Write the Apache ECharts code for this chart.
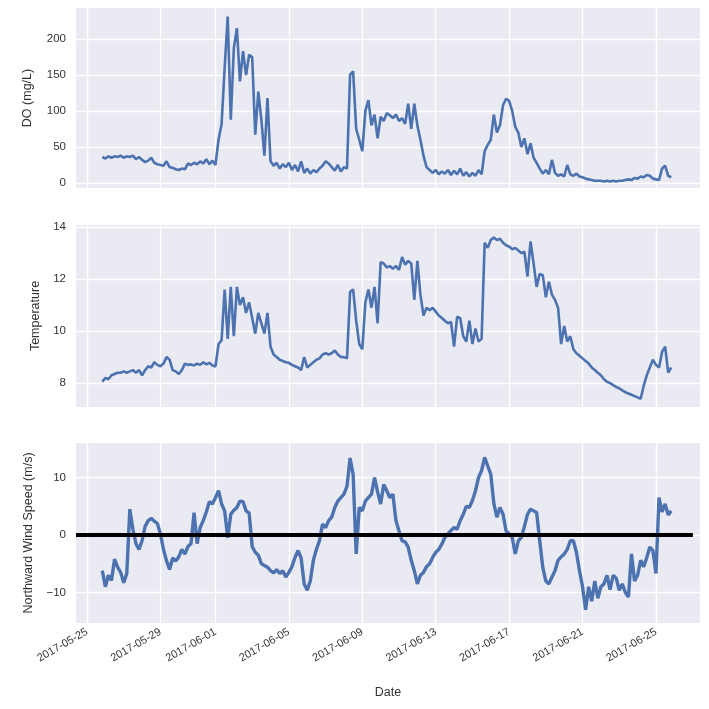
<!DOCTYPE html>
<html>
<head>
<meta charset="utf-8">
<script src="https://cdn.jsdelivr.net/npm/echarts@6/dist/echarts.min.js"></script>
<style>
html,body{margin:0;padding:0;background:#fff;}
#chart{width:709px;height:709px;}
</style>
</head>
<body>
<div id="chart"></div>
<script>
// Sampling grid: one reading every 4 hours, starting 2017-05-25 20:00
const sampleStart = '2017-05-25 20:00';
const sampleStepHours = 4;

const tickDates = ['2017-05-25','2017-05-29','2017-06-01','2017-06-05','2017-06-09','2017-06-13','2017-06-17','2017-06-21','2017-06-25'];
const xRange = ['2017-05-24 09:36', '2017-06-27 09:36'];
const zeroLineEnd = '2017-06-27 00:20';

const doTicks = [0, 50, 100, 150, 200];
const tempTicks = [8, 10, 12, 14];
const windTicks = [-10, 0, 10];

const doValues = [
36,34,37,35,37,36, 38,35,37,36,38,33, 36,32,29,31,35,28, 26,25,24,30,22,21,
19,18,20,19,27,25, 28,26,30,27,33,26, 31,25,60,82,160,231, 88,187,215,141,183,150,
178,175,67,127,88,38, 118,30,24,28,20,26, 22,28,18,25,16,30, 14,20,13,18,15,20,
24,30,27,22,17,25, 16,22,20,150,155,75, 60,44,100,115,80,95, 62,92,86,97,94,90,
95,86,90,82,110,75, 110,80,60,38,22,18, 14,18,12,16,13,18, 11,17,12,20,10,15,
9,14,10,18,12,44, 53,60,95,70,80,108, 117,114,100,78,70,50, 62,40,55,35,28,20,
13,18,12,32,14,10, 12,9,25,12,10,13, 9,8,6,5,4,3, 3,3,2,3,2,3,
2,3,3,4,5,4, 7,6,9,8,11,10, 6,5,4,20,24,10, 8
];

const tempValues = [
8.05,8.2,8.15,8.3,8.35,8.4, 8.4,8.45,8.4,8.45,8.5,8.4, 8.5,8.3,8.5,8.65,8.6,8.8,
8.7,8.65,8.75,9.0,8.9,8.5, 8.45,8.35,8.5,8.75,8.7,8.72, 8.68,8.75,8.7,8.8,8.72,8.78,
8.68,8.64,9.5,9.65,11.6,9.7, 11.7,9.8,11.7,11.0,11.3,10.7, 11.1,10.5,9.9,10.7,10.3,9.9,
10.7,9.4,9.1,9.0,8.9,8.85, 8.8,8.78,8.7,8.65,8.6,8.5, 9.0,8.6,8.7,8.8,8.9,8.95,
9.1,9.15,9.1,9.15,9.25,9.1, 9.0,9.0,8.95,11.5,11.6,10.4, 9.5,9.3,11.1,11.6,10.9,11.7,
10.3,12.65,12.6,12.45,12.5,12.4, 12.5,12.35,12.85,12.55,12.7,12.6, 11.2,12.7,11.4,10.6,10.9,10.8,
10.9,10.75,10.6,10.5,10.4,10.3, 10.35,9.4,10.55,10.5,9.8,9.6, 10.4,9.5,10.1,9.6,9.7,13.4,
13.2,13.5,13.6,13.5,13.55,13.4, 13.3,13.25,13.15,13.2,13.1,13.0, 13.05,12.1,13.45,12.6,11.7,12.2,
12.15,11.3,11.9,11.4,11.2,10.9, 9.5,10.2,9.6,9.8,9.3,9.15, 9.05,8.95,8.85,8.75,8.6,8.5,
8.4,8.3,8.15,8.05,8.0,7.92, 7.85,7.8,7.72,7.65,7.6,7.55, 7.5,7.45,7.4,7.9,8.3,8.6,
8.9,8.7,8.6,9.2,9.4,8.4, 8.6
];

const windValues = [
-6.2,-9.0,-7.0,-7.9,-4.2,-5.6, -6.5,-8.3,-6.7,4.5,1.0,-1.5, -2.5,-1.0,1.5,2.5,2.9,2.4,
2.0,0.2,-2.5,-4.5,-6.0,-4.0, -4.5,-3.8,-2.5,-3.3,-2.0,-1.5, 3.9,-1.5,1.3,2.5,4.0,5.8,
5.4,6.5,7.7,5.4,4.2,-0.5, 3.6,4.3,4.8,5.9,5.8,4.2, 3.8,-2.0,-3.0,-3.5,-5.0,-5.3,
-5.6,-6.2,-6.6,-6.0,-6.7,-6.2, -7.3,-6.5,-5.5,-3.9,-2.7,-4.0, -8.5,-9.6,-8.0,-4.4,-2.5,-1.0,
1.9,1.3,2.5,3.1,4.8,5.9, 6.5,7.1,8.5,13.4,10.5,-3.3, 4.8,4.2,5.9,6.5,7.1,10.0,
7.5,5.4,8.8,7.7,6.5,7.1, 2.5,0.7,-1.0,-1.2,-2.1,-4.4, -6.2,-8.5,-7.0,-6.5,-5.5,-5.0,
-3.9,-3.0,-2.5,-1.6,-0.4,0.2, 0.8,1.3,1.0,2.5,3.6,5.0, 4.8,6.0,7.7,10.0,11.2,13.5,
12.0,10.6,5.5,3.1,4.8,3.6, 0.7,0.2,-0.4,-3.3,-1.0,-0.4, 1.5,3.6,4.5,4.2,3.9,-1.0,
-5.6,-8.0,-8.5,-7.3,-6.2,-4.4, -3.8,-3.3,-2.5,-1.0,-1.0,-3.0, -6.2,-9.0,-13.0,-9.0,-11.5,-8.0,
-11.0,-9.0,-8.5,-7.0,-9.5,-7.0, -7.5,-9.6,-8.5,-10.0,-10.8,-3.3, -8.0,-7.0,-4.4,-5.5,-3.9,-2.1,
-2.7,-6.7,6.5,4.0,5.4,3.5, 4.2
];

function parseLocal(s) {
  const [d, t] = s.split(' ');
  const [y, m, dd] = d.split('-').map(Number);
  const [hh, mm] = (t || '00:00').split(':').map(Number);
  return new Date(y, m - 1, dd, hh, mm).getTime();
}

const t0 = parseLocal(sampleStart);
const times = doValues.map((_, i) => t0 + i * sampleStepHours * 3600 * 1000);
const tickTs = tickDates.map(parseLocal);
const xMin = parseLocal(xRange[0]);
const xMax = parseLocal(xRange[1]);

const FONT = "'Liberation Sans', Arial, sans-serif";
const TXT = '#333333';
const BG = '#EAEAF2';
const BLUE = '#4C72B0';

function xAxis(idx, showLabels) {
  return {
    type: 'time', gridIndex: idx, min: xMin, max: xMax,
    axisLine: { show: false },
    axisTick: { show: false, customValues: tickTs },
    axisLabel: {
      show: showLabels, customValues: tickTs, rotate: 30, margin: 8,
      formatter: '{yyyy}-{MM}-{dd}', color: TXT, fontSize: 11, fontFamily: FONT,
      hideOverlap: false
    },
    splitLine: { show: true, lineStyle: { color: '#ffffff', width: 1.3 } },
    name: showLabels ? 'Date' : '', nameLocation: 'middle', nameGap: 63,
    nameTextStyle: { color: TXT, fontSize: 12.5, fontFamily: FONT }
  };
}

function yAxis(idx, name, min, max, ticks, gap) {
  return {
    type: 'value', gridIndex: idx, min: min, max: max,
    axisLine: { show: false },
    axisTick: { show: false, customValues: ticks },
    axisLabel: { customValues: ticks, color: TXT, fontSize: 11.5, fontFamily: FONT, margin: 10,
      formatter: v => (v < 0 ? '\u2212' + Math.abs(v) : String(v)) },
    splitLine: { show: true, lineStyle: { color: '#ffffff', width: 1.3 } },
    name: name, nameLocation: 'middle', nameGap: gap,
    nameTextStyle: { color: TXT, fontSize: 12.5, fontFamily: FONT }
  };
}

const gridBase = { left: 76, right: 9, show: true, backgroundColor: BG, borderWidth: 0 };

const option = {
  animation: false,
  backgroundColor: '#ffffff',
  grid: [
    Object.assign({ top: 8, height: 180 }, gridBase),
    Object.assign({ top: 225, height: 182 }, gridBase),
    Object.assign({ top: 443, height: 180 }, gridBase)
  ],
  xAxis: [xAxis(0, false), xAxis(1, false), xAxis(2, true)],
  yAxis: [
    yAxis(0, 'DO (mg/L)', -7, 243, doTicks, 42),
    yAxis(1, 'Temperature', 7.08, 14.08, tempTicks, 34),
    yAxis(2, 'Northward Wind Speed (m/s)', -15.3, 16.0, windTicks, 41)
  ],
  series: [
    { type: 'line', xAxisIndex: 0, yAxisIndex: 0, showSymbol: false, symbol: 'none',
      lineStyle: { color: BLUE, width: 2.6 }, data: times.map((t, i) => [t, doValues[i]]) },
    { type: 'line', xAxisIndex: 1, yAxisIndex: 1, showSymbol: false, symbol: 'none',
      lineStyle: { color: BLUE, width: 2.6 }, data: times.map((t, i) => [t, tempValues[i]]) },
    { type: 'line', xAxisIndex: 2, yAxisIndex: 2, showSymbol: false, symbol: 'none',
      lineStyle: { color: BLUE, width: 3.4 }, data: times.map((t, i) => [t, windValues[i]]),
      markLine: {
        silent: true, symbol: ['none', 'none'], animation: false,
        label: { show: false },
        lineStyle: { color: '#000000', width: 4, type: 'solid' },
        data: [[{ coord: [xMin, 0] }, { coord: [parseLocal(zeroLineEnd), 0] }]]
      }
    }
  ]
};

const chart = echarts.init(document.getElementById('chart'), null, { renderer: 'canvas' });
chart.setOption(option);
</script>
</body>
</html>
